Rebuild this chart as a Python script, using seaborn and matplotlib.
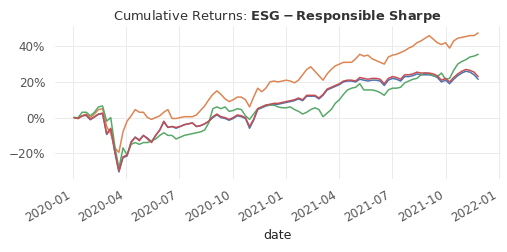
import numpy as np
import pandas as pd
import matplotlib
matplotlib.use("Agg")
import matplotlib.pyplot as plt
import matplotlib.dates as mdates
import matplotlib.ticker as mticker
import seaborn as sns

# weekly closes (cumulative return, fraction)
dates = pd.date_range("2020-01-03", "2021-11-26", freq="W-FRI")

blue = [
    0.0, -0.005, 0.01, 0.012, -0.012, 0.003, 0.018, 0.022, -0.095, -0.065,
    -0.195, -0.305, -0.225, -0.215, -0.135, -0.11, -0.125, -0.1, -0.115, -0.135,
    -0.1, -0.07, -0.025, -0.055, -0.05, -0.06, -0.05, -0.04, -0.035, -0.03,
    -0.05, -0.045, -0.035, -0.022, 0.0, 0.015, 0.0, -0.005, -0.015, -0.005,
    0.01, 0.005, -0.005, -0.06, -0.015, 0.045, 0.055, 0.065, 0.07, 0.075,
    0.075, 0.08, 0.085, 0.09, 0.095, 0.105, 0.095, 0.12, 0.12, 0.12,
    0.105, 0.125, 0.155, 0.165, 0.175, 0.185, 0.2, 0.205, 0.205, 0.2,
    0.215, 0.21, 0.205, 0.21, 0.21, 0.205, 0.18, 0.21, 0.22, 0.215,
    0.205, 0.23, 0.23, 0.235, 0.245, 0.24, 0.24, 0.24, 0.235, 0.225,
    0.2, 0.21, 0.19, 0.215, 0.235, 0.25, 0.26, 0.255, 0.24, 0.215,
]
orange = [
    0.0, -0.005, 0.01, 0.02, 0.0, 0.02, 0.045, 0.05, -0.05, -0.09,
    -0.17, -0.195, -0.08, -0.02, 0.01, 0.045, 0.03, 0.03, 0.0, -0.01,
    0.0, 0.01, 0.03, 0.045, -0.005, -0.005, 0.0, 0.005, 0.005, 0.005,
    0.015, 0.04, 0.065, 0.1, 0.13, 0.15, 0.13, 0.105, 0.09, 0.1,
    0.115, 0.115, 0.1, 0.06, 0.115, 0.165, 0.145, 0.165, 0.2, 0.205,
    0.2, 0.205, 0.21, 0.205, 0.195, 0.21, 0.24, 0.27, 0.285, 0.26,
    0.235, 0.21, 0.245, 0.27, 0.29, 0.3, 0.31, 0.31, 0.31, 0.33,
    0.355, 0.345, 0.35, 0.33, 0.32, 0.31, 0.3, 0.34, 0.35, 0.355,
    0.365, 0.375, 0.39, 0.4, 0.42, 0.43, 0.445, 0.46, 0.44, 0.42,
    0.41, 0.42, 0.39, 0.43, 0.445, 0.45, 0.455, 0.46, 0.46, 0.475,
]
green = [
    0.0, 0.0, 0.03, 0.03, 0.01, 0.03, 0.06, 0.065, -0.02, 0.0,
    -0.16, -0.285, -0.17, -0.21, -0.15, -0.14, -0.15, -0.14, -0.14, -0.13,
    -0.12, -0.1, -0.085, -0.1, -0.1, -0.12, -0.11, -0.1, -0.095, -0.09,
    -0.085, -0.08, -0.07, -0.03, 0.05, 0.06, 0.05, 0.06, 0.035, 0.04,
    0.05, 0.045, 0.01, -0.01, 0.02, 0.05, 0.06, 0.07, 0.07, 0.07,
    0.06, 0.055, 0.055, 0.06, 0.045, 0.035, 0.02, 0.03, 0.045, 0.055,
    0.045, 0.005, 0.025, 0.045, 0.08, 0.1, 0.13, 0.155, 0.165, 0.17,
    0.19, 0.155, 0.155, 0.155, 0.15, 0.14, 0.125, 0.155, 0.165, 0.165,
    0.17, 0.195, 0.205, 0.215, 0.22, 0.24, 0.25, 0.245, 0.235, 0.23,
    0.25, 0.215, 0.22, 0.265, 0.3, 0.315, 0.325, 0.34, 0.345, 0.355,
]
red = [
    0.0, -0.005, 0.01, 0.015, -0.01, 0.005, 0.02, 0.025, -0.09, -0.06,
    -0.19, -0.3, -0.22, -0.21, -0.14, -0.11, -0.13, -0.1, -0.12, -0.14,
    -0.1, -0.07, -0.02, -0.055, -0.05, -0.055, -0.05, -0.04, -0.035, -0.03,
    -0.05, -0.045, -0.035, -0.02, 0.005, 0.02, 0.005, 0.0, -0.01, 0.0,
    0.015, 0.01, 0.0, -0.05, -0.01, 0.05, 0.06, 0.07, 0.075, 0.08,
    0.08, 0.085, 0.09, 0.095, 0.1, 0.11, 0.1, 0.125, 0.125, 0.125,
    0.11, 0.13, 0.16, 0.17, 0.18, 0.19, 0.205, 0.21, 0.21, 0.205,
    0.225, 0.22, 0.215, 0.22, 0.22, 0.215, 0.19, 0.22, 0.23, 0.225,
    0.215, 0.24, 0.24, 0.245, 0.255, 0.25, 0.25, 0.25, 0.245, 0.235,
    0.21, 0.22, 0.2, 0.225, 0.245, 0.26, 0.27, 0.265, 0.255, 0.23,
]
series_names = ["Portfolio 1", "Portfolio 2", "Portfolio 3", "Portfolio 4"]

df = pd.concat([
    pd.DataFrame({"date": dates, "return": vals, "series": name})
    for name, vals in zip(series_names, [blue, orange, green, red])
])

sns.set_theme(style="whitegrid", palette="deep")
plt.rcParams["font.family"] = ["DejaVu Sans"]

fig, ax = plt.subplots(figsize=(507 / 72, 252 / 72), dpi=72)
fig.subplots_adjust(left=0.108, right=0.988, top=0.897, bottom=0.29)

sns.lineplot(data=df, x="date", y="return", hue="series", legend=False,
             linewidth=1.5, ax=ax)

ax.set_title(r"Cumulative Returns: $\bf{ESG - Responsible\ Sharpe}$",
             fontsize=13, color="#333333")
ax.set_ylabel("")
ax.set_xlabel("date", fontsize=12.5, color="#222222")

ax.set_xlim(pd.Timestamp("2019-12-01"), pd.Timestamp("2022-01-04"))
ax.yaxis.set_major_locator(mticker.MultipleLocator(0.2))
ax.yaxis.set_major_formatter(mticker.FuncFormatter(
    lambda v, _: f"{v * 100:.0f}%".replace("-", "\u2212")))
ax.xaxis.set_major_locator(mdates.MonthLocator(bymonth=[1, 4, 7, 10]))
ax.xaxis.set_major_formatter(mdates.DateFormatter("%Y-%m"))
ax.tick_params(labelsize=12, colors="#555555")
plt.setp(ax.get_xticklabels(), rotation=30, ha="right")

for s in ax.spines.values():
    s.set_visible(False)
ax.grid(color="#ebebeb")

fig.savefig("out.png", dpi=72)
